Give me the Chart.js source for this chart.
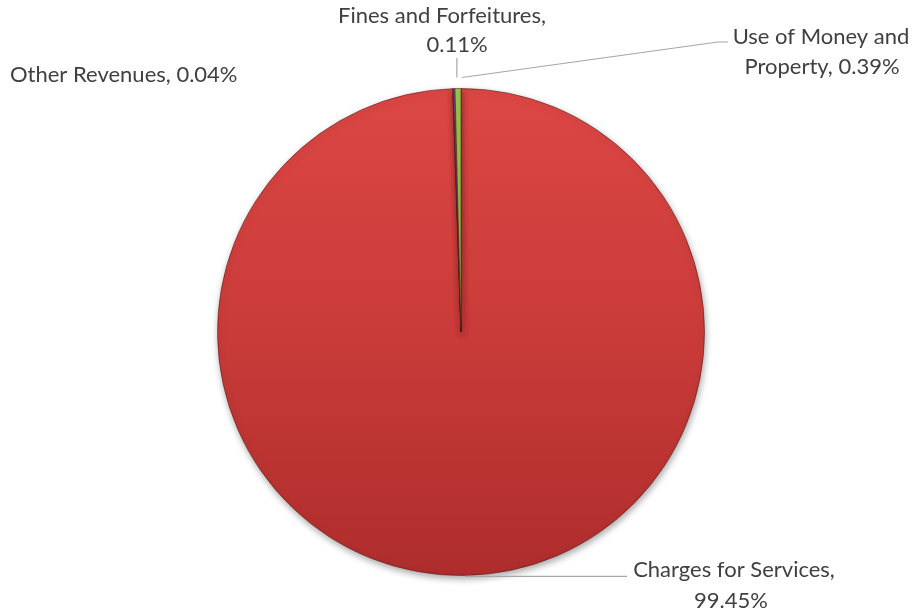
<!DOCTYPE html>
<html><head><meta charset="utf-8">
<script src="https://cdn.jsdelivr.net/npm/chart.js@4.4.1/dist/chart.umd.min.js"></script>
<style>html,body{margin:0;padding:0;background:#fff}#wrap{width:913px;height:615px;position:relative}</style>
</head><body><div id="wrap"><canvas id="c"></canvas></div>
<script>
const categories = ["Charges for Services", "Other Revenues", "Fines and Forfeitures", "Use of Money and Property"];
const values = [99.45, 0.04, 0.11, 0.39];
const sliceColors = ["#C93A38", "#4F81BD", "#8064A2", "#8DB63F"];

// label layout (style/position config, not data)
const labelLayout = [
  { breakAfter: 3, lines: [{x: 734, y: 577}, {x: 731, y: 608}], align: 'center', leader: 'charges' },
  { breakAfter: 0, lines: [{x: 10, y: 82}], align: 'left', leader: 'none' },
  { breakAfter: 3, lines: [{x: 442, y: 23}, {x: 457, y: 52}], align: 'center', leader: 'fines' },
  { breakAfter: 4, lines: [{x: 821, y: 44}, {x: 822, y: 74}], align: 'center', leader: 'money' }
];

function labelLines(i) {
  const words = (categories[i] + ', ' + values[i].toFixed(2) + '%').split(' ');
  const n = labelLayout[i].breakAfter;
  if (!n) return [words.join(' ')];
  return [words.slice(0, n).join(' '), words.slice(n).join(' ')];
}

const shadowPlugin = {
  id: 'shadow',
  beforeDatasetsDraw(chart) {
    const ctx = chart.ctx;
    ctx.save();
    ctx.shadowColor = 'rgba(0,0,0,0.35)';
    ctx.shadowBlur = 7;
    ctx.shadowOffsetX = 1;
    ctx.shadowOffsetY = 3;
  },
  afterDatasetsDraw(chart) {
    chart.ctx.restore();
  }
};

const labelPlugin = {
  id: 'labels',
  afterDraw(chart) {
    const ctx = chart.ctx;
    const meta = chart.getDatasetMeta(0);
    ctx.save();
    ctx.font = '22px Lato';
    ctx.fillStyle = '#404040';
    ctx.strokeStyle = '#A6A6A6';
    ctx.lineWidth = 1.2;
    meta.data.forEach((arc, i) => {
      const p = arc.getProps(['x', 'y', 'startAngle', 'endAngle', 'outerRadius'], true);
      const mid = (p.startAngle + p.endAngle) / 2;
      const lay = labelLayout[i];
      const anchor = (ext) => ({ x: p.x + Math.cos(mid) * (p.outerRadius + ext), y: p.y + Math.sin(mid) * (p.outerRadius + ext) });
      ctx.beginPath();
      if (lay.leader === 'charges') {
        const a = anchor(1);
        ctx.moveTo(a.x, a.y);
        ctx.lineTo(627, a.y);
        ctx.stroke();
      } else if (lay.leader === 'fines') {
        const a = anchor(11);
        ctx.moveTo(a.x + 3, a.y);
        ctx.lineTo(a.x + 3, 58);
        ctx.stroke();
      } else if (lay.leader === 'money') {
        const a = anchor(11);
        ctx.moveTo(a.x + 4, a.y);
        ctx.lineTo(718, 42);
        ctx.lineTo(728, 42);
        ctx.stroke();
      }
      ctx.textAlign = lay.align;
      ctx.textBaseline = 'alphabetic';
      labelLines(i).forEach((t, k) => ctx.fillText(t, lay.lines[k].x, lay.lines[k].y));
    });
    ctx.restore();
  }
};

function bg(context) {
  const i = context.dataIndex;
  const chart = context.chart;
  const area = chart.chartArea;
  if (!area) return sliceColors[i];
  const g = chart.ctx.createLinearGradient(0, area.top, 0, area.bottom);
  if (i === 0) {
    g.addColorStop(0, '#DC4745');
    g.addColorStop(0.5, '#C93B39');
    g.addColorStop(1, '#AE2D2C');
  } else if (i === 3) {
    g.addColorStop(0, '#9BC64A');
    g.addColorStop(1, '#7DA235');
  } else {
    g.addColorStop(0, sliceColors[i]);
    g.addColorStop(1, sliceColors[i]);
  }
  return g;
}

new Chart(document.getElementById('c'), {
  type: 'pie',
  data: {
    labels: categories,
    datasets: [{
      data: values,
      backgroundColor: bg,
      borderColor: 'rgba(80,20,20,0.55)',
      borderWidth: 1
    }]
  },
  options: {
    responsive: true,
    maintainAspectRatio: false,
    animation: false,
    layout: { padding: { left: 9, right: 0, top: 88, bottom: 39 } },
    plugins: { legend: { display: false }, tooltip: { enabled: false } }
  },
  plugins: [shadowPlugin, labelPlugin]
});
</script>
</body></html>
